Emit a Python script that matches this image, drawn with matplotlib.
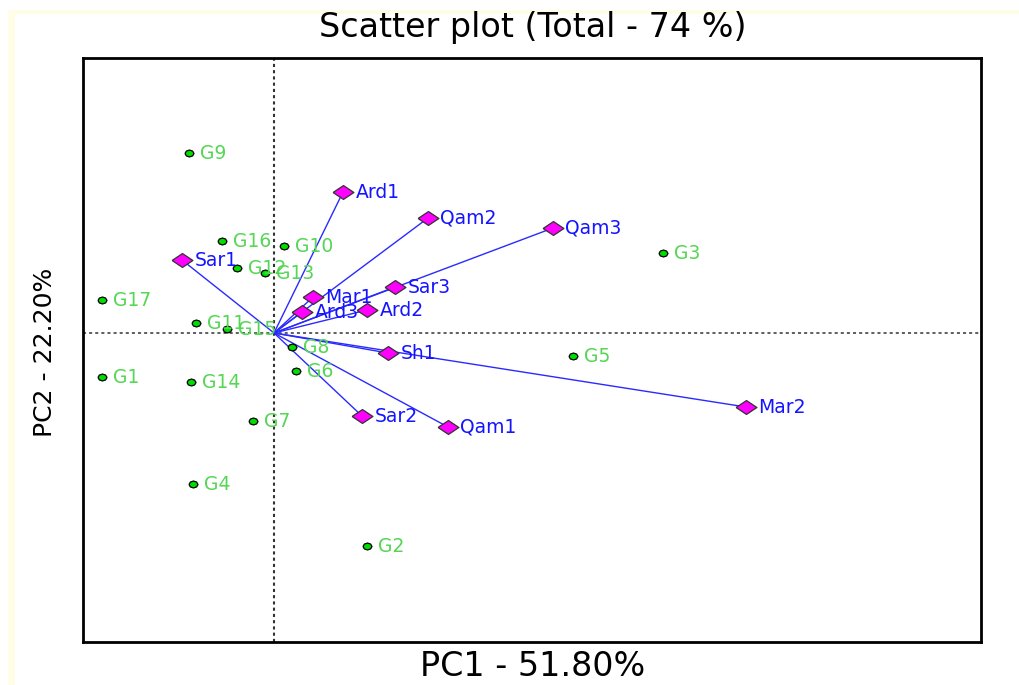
import matplotlib
matplotlib.use('Agg')
import matplotlib.pyplot as plt
from matplotlib.patches import Rectangle

# genotype scores (PC1, PC2)
geno = ['G1', 'G2', 'G3', 'G4', 'G5', 'G6', 'G7', 'G8', 'G9', 'G10',
        'G11', 'G12', 'G13', 'G14', 'G15', 'G16', 'G17']
geno_x = [-1.72, 0.93, 3.89, -0.81, 2.99, 0.22, -0.21, 0.18, -0.85, 0.10,
          -0.78, -0.37, -0.09, -0.83, -0.47, -0.52, -1.72]
geno_y = [-0.44, -2.13, 0.80, -1.51, -0.23, -0.38, -0.88, -0.14, 1.80, 0.87,
          0.10, 0.65, 0.60, -0.49, 0.04, 0.92, 0.33]

# environment vectors (PC1, PC2)
env = ['Ard1', 'Ard2', 'Ard3', 'Mar1', 'Mar2', 'Qam1', 'Qam2', 'Qam3',
       'Sar1', 'Sar2', 'Sar3', 'Sh1']
env_x = [0.69, 0.93, 0.28, 0.39, 4.72, 1.74, 1.54, 2.79, -0.92, 0.88, 1.21, 1.14]
env_y = [1.41, 0.23, 0.21, 0.36, -0.74, -0.94, 1.15, 1.05, 0.73, -0.83, 0.46, -0.20]

fig = plt.figure(figsize=(10.19, 6.85), dpi=100)
fig.patch.set_facecolor('white')
# faint yellow border on top/left
fig.patches.append(Rectangle((8/1019, 0), 1, 1 - 10/685, transform=fig.transFigure,
                             facecolor='#fffde6', edgecolor='none', zorder=-2))
fig.patches.append(Rectangle((15/1019, 0), 1, 1 - 14/685, transform=fig.transFigure,
                             facecolor='white', edgecolor='none', zorder=-1))

ax = fig.add_axes([83/1019, 1 - 642/685, (981 - 83)/1019, (642 - 58)/685])
ax.set_xlim(-1.91, 7.07)
ax.set_ylim(-3.09, 2.75)
ax.set_xticks([])
ax.set_yticks([])
for s in ax.spines.values():
    s.set_linewidth(2)

ax.axhline(0, color='#333333', ls=(0, (2, 2)), lw=1.1, zorder=1)
ax.axvline(0, color='#333333', ls=(0, (1.5, 1.5)), lw=1.5, zorder=1)

# wide diamond and squashed dot markers
diamond = [(-1.5, 0), (0, 1), (1.5, 0), (0, -1), (-1.5, 0)]
oval = [(-1.3, 0), (-0.9, 0.7), (0, 1), (0.9, 0.7), (1.3, 0),
        (0.9, -0.7), (0, -1), (-0.9, -0.7), (-1.3, 0)]

for x, y in zip(env_x, env_y):
    ax.plot([0, x], [0, y], color='#2a2aff', lw=1.0, zorder=2)
ax.plot(env_x, env_y, ls='none', marker=diamond, ms=15, mfc='#ff00ff',
        mec='#333333', mew=0.9, zorder=4)
ax.plot(geno_x, geno_y, ls='none', marker=oval, ms=6.5, mfc='#00dd00',
        mec='black', mew=0.9, zorder=3)

for name, x, y in zip(geno, geno_x, geno_y):
    ax.annotate(name, (x, y), xytext=(8, 0), textcoords='offset points',
                va='center', ha='left', color='#55d655', fontsize=13.5,
                family='DejaVu Sans', zorder=5)
for name, x, y in zip(env, env_x, env_y):
    ax.annotate(name, (x, y), xytext=(9, 0), textcoords='offset points',
                va='center', ha='left', color='#1414ff', fontsize=13.5,
                family='DejaVu Sans', zorder=5)

fig.text(533/1019, 1 - 28/685, 'Scatter plot (Total - 74 %)', ha='center',
         va='center', fontsize=24, family='DejaVu Sans')
fig.text(533/1019, 1 - 667/685, 'PC1 - 51.80%', ha='center', va='center',
         fontsize=24, family='DejaVu Sans')
fig.text(45/1019, 1 - 352/685, 'PC2 - 22.20%', ha='center', va='center',
         rotation=90, fontsize=18, family='DejaVu Sans')

fig.savefig('out.png', dpi=100)
